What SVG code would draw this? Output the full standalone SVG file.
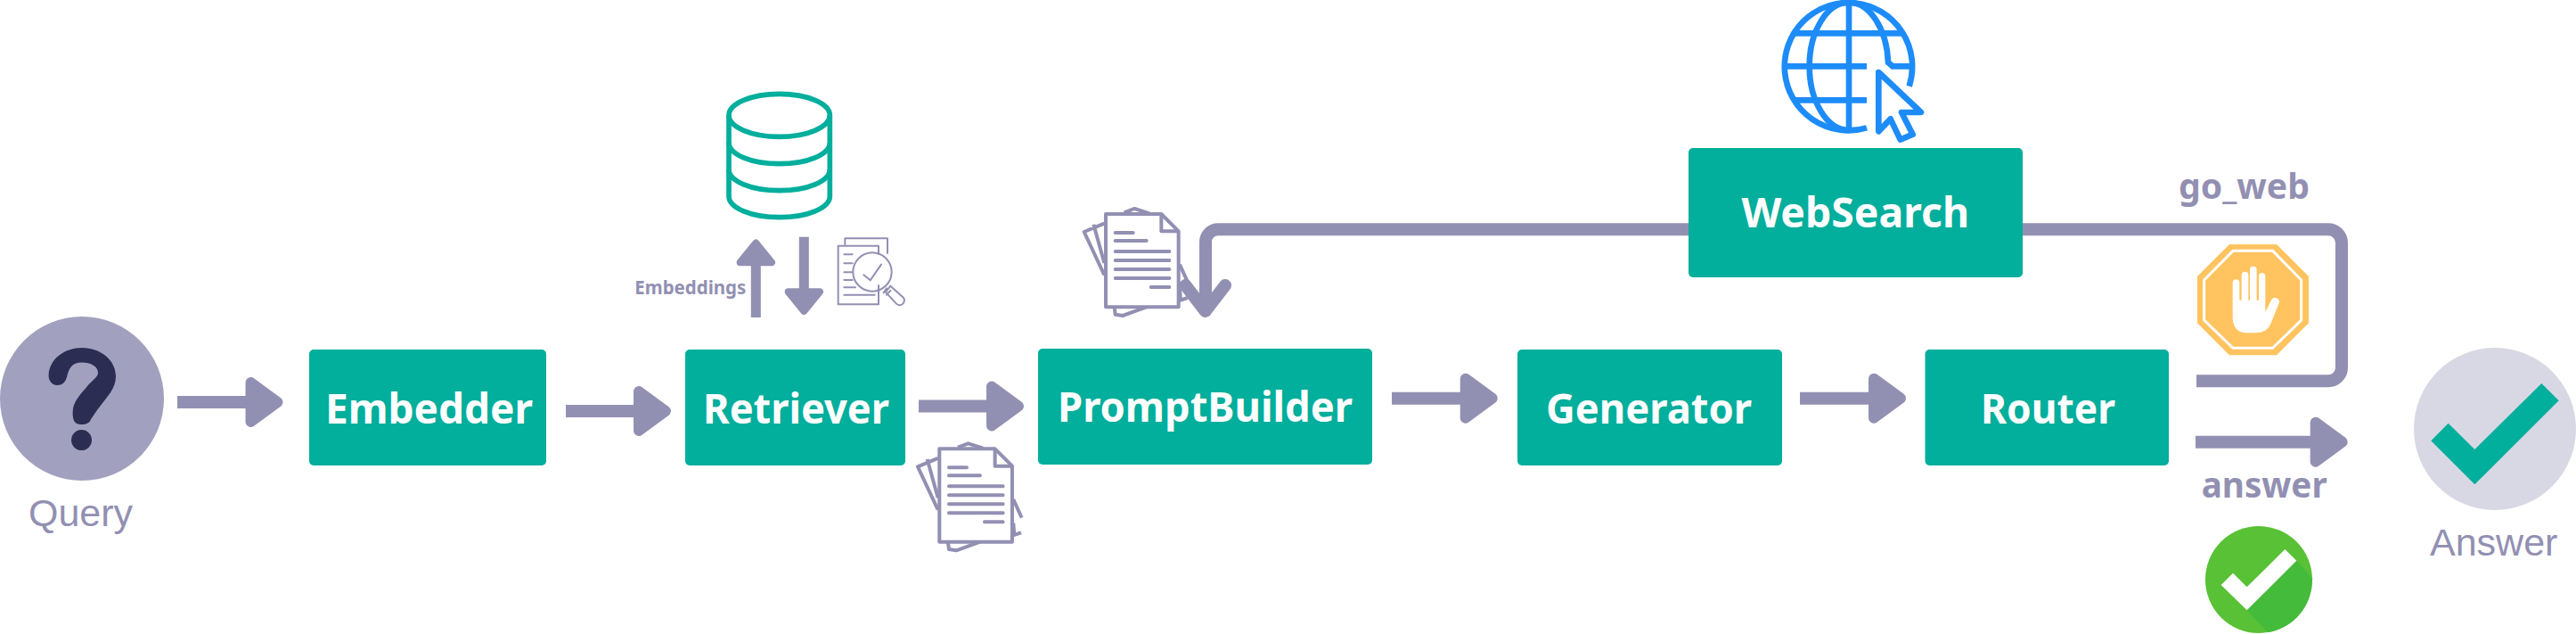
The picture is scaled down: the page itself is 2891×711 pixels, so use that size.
<svg xmlns="http://www.w3.org/2000/svg" xmlns:xlink="http://www.w3.org/1999/xlink" width="2891" height="711" viewBox="0 0 2891 711">
<style>
text{font-family:"Noto Sans","Liberation Sans",sans-serif}
.box{fill:#02AE9C}
.nt{fill:#fff;font-size:46px;font-weight:700}
.lb{fill:#9290B2;font-size:40px;font-weight:700}
.cap{fill:#9290B2;font-size:43px;font-weight:400;font-family:"Liberation Sans",Arial,sans-serif}
.ln{fill:none;stroke:#9290B2;stroke-width:14}
.hd{fill:#9290B2;stroke:#9290B2;stroke-width:12;stroke-linejoin:round}
.ds{fill:none;stroke:#9290B2;stroke-width:12;stroke-linejoin:round}
.dl{fill:none;stroke:#9290B2;stroke-width:12;stroke-linecap:round}
.sr{fill:none;stroke:#9290B2;stroke-width:6;stroke-linecap:round;stroke-linejoin:round}
.gl{fill:none;stroke:#1D8CF8;stroke-width:20}
</style>
<defs>
<path id="ah" class="hd" d="M6,-22 L36,0 L6,22Z"/>
<g id="docs">
<path class="ds" d="M718,295 L650,150 L718,122 M682,125 L718,255 M785,85 L820,72 L870,88 M752,405 L755,428 L780,432 L860,403 M972,260 L1000,322 M972,340 L975,380 L998,372"/>
<path class="ds" style="fill:#fff" d="M723,90 H910 L968,148 V403 H723Z"/>
<path class="ds" d="M910,90 V148 H968"/>
<path class="dl" d="M755,153 H815 M755,180 H860 M755,216 H937 M755,246 H937 M755,276 H937 M755,306 H937 M875,336 H937"/>
</g>
</defs>

<g id="icons">
<g id="database-icon" transform="translate(680,80) scale(.33333)" fill="none" stroke="#02AE9C" stroke-width="17">
<ellipse cx="584" cy="148" rx="170" ry="72"/>
<path d="M414,148 V420 C414,460 490,491 584,491 C678,491 754,460 754,420 V148"/>
<path d="M414,240 C414,280 490,311 584,311 C678,311 754,280 754,240"/>
<path d="M414,330 C414,370 490,401 584,401 C678,401 754,370 754,330"/>
</g>
<g id="search-doc-icon" transform="translate(680,80) scale(.33333)">
<path class="sr" d="M805,582 V562 H948 V612"/>
<path class="sr" d="M918,720 V784 H782 V587 H918 V615"/>
<path class="sr" d="M802,616 H830 M802,646 H830 M802,676 H830 M802,702 H830 M802,727 H840 M802,752 H905"/>
<circle class="sr" cx="897" cy="675" r="65"/>
<path class="sr" d="M868,685 L890,703 L927,650"/>
<path class="sr" d="M935,745 L945,730 M958,722 L1000,760 A14,14 0 0 1 978,782 L942,743 Z M958,738 L945,752"/>
</g>
<use id="docs-top" href="#docs" transform="translate(1000,210) scale(.33333)"/>
<use id="docs-bottom" href="#docs" transform="translate(813.3,473.3) scale(.33333)"/>
<g id="globe-icon" transform="translate(1950,0) scale(.33333)">
<path class="gl" d="M578,290 A215,215 0 1 0 435,430"/>
<path class="gl" d="M375,438 A133,215 0 0 1 375,8 A133,215 0 0 1 507,210 L522,223 H590"/>
<path class="gl" d="M375,8 V438 M191,112 H559 M160,223 H435 M193,337 H435"/>
<path d="M475,243 L618,378 H552 L590,452 L548,470 L515,400 L475,442Z" fill="none" stroke="#1D8CF8" stroke-width="20" stroke-linejoin="round"/>
</g>
<g id="stop-icon" transform="translate(2380,170) scale(.33333)">
<path fill="#FFC35F" d="M366,312 H525 L633,420 V577 L525,685 H366 L258,577 V420Z"/>
<path fill="none" stroke="#fff" stroke-width="9" d="M378,334 H512 L608,432 V567 L512,661 H378 L281,567 V432Z"/>
<path fill="#fff" d="M377,441 A11.5,11.5 0 0 1 400,441 V500 H407 V416 A11.5,11.5 0 0 1 430,416 V500 H435 V398 A11.5,11.5 0 0 1 458,398 V500 H465 V419 A11,11 0 0 1 487,419 V540 L508,498 A14,14 0 0 1 533,510 L505,580 Q492,610 455,610 H425 Q380,610 377,560Z"/>
</g>
<g id="ok-icon" transform="translate(2380,440) scale(.33333)">
<circle cx="465" cy="630" r="180" fill="#58C135"/>
<path fill="#44BB3B" d="M425,733 L495,808 A180,180 0 0 0 645,625 L592,566Z"/>
<path fill="#fff" d="M338,648 L378,608 L425,655 L553,528 L592,566 L425,733Z"/>
</g>
</g>

<g id="connectors">
<path class="ln" d="M199,451 H278"/><use href="#ah" x="275.5" y="451"/>
<path class="ln" d="M635,461 H714"/><use href="#ah" x="711" y="461"/>
<path class="ln" d="M1031,455.5 H1110"/><use href="#ah" x="1107" y="455.5"/>
<path class="ln" d="M1562,446.7 H1641"/><use href="#ah" x="1638.7" y="446.7"/>
<path class="ln" d="M2020,446.7 H2100"/><use href="#ah" x="2097" y="446.7"/>
<path class="ln" d="M2464,495.7 H2595"/><use href="#ah" x="2592.7" y="495.7"/>
<path class="ln" style="stroke-width:11" d="M848.3,356 V296"/><path class="hd" style="stroke-width:8" d="M848.3,272.5 L866,294.3 H830.6Z"/>
<path class="ln" style="stroke-width:11" d="M902.3,265.7 V330"/><path class="hd" style="stroke-width:8" d="M902.3,349 L920,327.3 H884.6Z"/>
<path class="ln" d="M1895,257.3 H1367 A14,14 0 0 0 1353,271.3 V350"/>
<path d="M1330.5,320 L1352.7,349 L1375,320" fill="none" stroke="#9290B2" stroke-width="14" stroke-linecap="round" stroke-linejoin="round"/>
<path class="ln" d="M2270,257.3 H2613 A15,15 0 0 1 2628,272.3 V412.3 A15,15 0 0 1 2613,427.3 H2465"/>
</g>

<g id="query">
<circle cx="92" cy="447" r="92" fill="#A1A1BF"/>
<path fill="#2B2D52" d="M54.6,420 C56,402 73,390 92,390 C113,390 130,404 130,422 C130,436 120,445 112,456 C105,465 104,468 102,470 C101,474 97,476 91,476 C83,476 81.6,470 81.6,463 C81.6,450 90,443 98,433 C104,426 110,423 110,418 C110,411 102,406.5 92,406.5 C80,406.5 77,414 75,423 C73,429 70,432 64,432 C58,432 54,426 54.6,420Z"/>
<circle cx="91.5" cy="493.6" r="11.5" fill="#2B2D52"/>
<text class="cap" x="32" y="590">Query</text>
</g>
<g id="embedder"><rect class="box" x="347" y="392" width="266" height="130" rx="5"/><text class="nt" x="365" y="475" textLength="233" lengthAdjust="spacingAndGlyphs">Embedder</text></g>
<g id="retriever"><rect class="box" x="769" y="392" width="247" height="130" rx="5"/><text class="nt" x="789" y="475" textLength="209" lengthAdjust="spacingAndGlyphs">Retriever</text></g>
<g id="promptbuilder"><rect class="box" x="1165" y="391" width="375" height="130" rx="5"/><text class="nt" x="1187" y="473" textLength="331" lengthAdjust="spacingAndGlyphs">PromptBuilder</text></g>
<g id="generator"><rect class="box" x="1703" y="392" width="297" height="130" rx="5"/><text class="nt" x="1735" y="475" textLength="231" lengthAdjust="spacingAndGlyphs">Generator</text></g>
<g id="router"><rect class="box" x="2160.5" y="392" width="273.5" height="130" rx="5"/><text class="nt" x="2223" y="475" textLength="151" lengthAdjust="spacingAndGlyphs">Router</text></g>
<g id="websearch"><rect class="box" x="1895" y="166" width="375" height="145" rx="5"/><text class="nt" x="1954.5" y="255" textLength="255.5" lengthAdjust="spacingAndGlyphs">WebSearch</text></g>
<g id="answer">
<circle cx="2800" cy="481" r="91" fill="#D8D8E4"/>
<path fill="#02AE9C" d="M2728.3,494.3 L2747.7,474.7 L2777.3,504 L2852.3,430 L2871.7,449.3 L2777.3,543.3Z"/>
<text class="cap" x="2727" y="622.7">Answer</text>
</g>
<g id="labels">
<text class="lb" style="font-size:21px" x="712.3" y="330" textLength="125" lengthAdjust="spacingAndGlyphs">Embeddings</text>
<text class="lb" x="2445" y="223" textLength="147" lengthAdjust="spacingAndGlyphs">go_web</text>
<text class="lb" x="2470.7" y="558" textLength="141" lengthAdjust="spacingAndGlyphs">answer</text>
</g>
</svg>
